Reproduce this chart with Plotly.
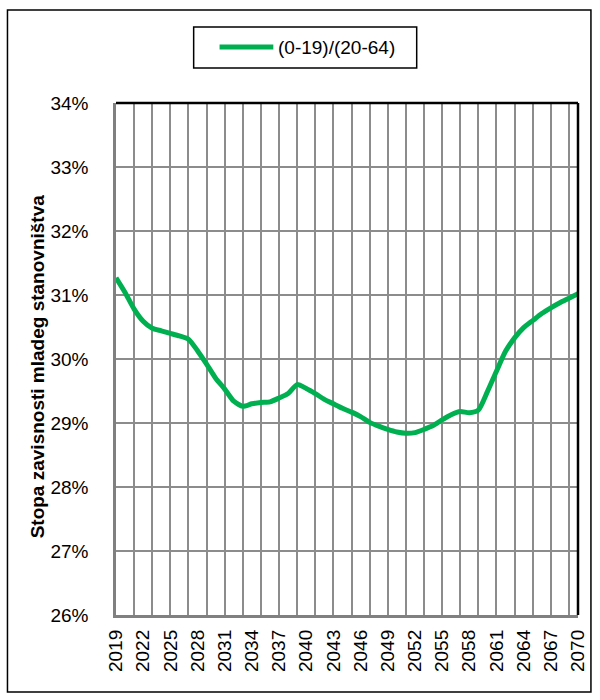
import plotly.graph_objects as go

years = list(range(2019, 2071))
ratio = [31.27, 31.04, 30.78, 30.59, 30.48, 30.44, 30.40, 30.36, 30.31, 30.13,
         29.92, 29.70, 29.53, 29.34, 29.26, 29.30, 29.32, 29.33, 29.39, 29.46,
         29.60, 29.54, 29.46, 29.37, 29.30, 29.23, 29.17, 29.10, 29.01, 28.95,
         28.90, 28.86, 28.84, 28.85, 28.90, 28.96, 29.05, 29.13, 29.18, 29.16,
         29.20, 29.49, 29.81, 30.12, 30.33, 30.49, 30.60, 30.71, 30.80, 30.88,
         30.95, 31.02]
label_years = list(range(2019, 2071, 3))
grid_years = list(range(2019, 2071, 2))
y_ticks = [26, 27, 28, 29, 30, 31, 32, 33, 34]
y_labels = [f"{v}%" for v in y_ticks]
series_name = "(0-19)/(20-64)"
y_title = "Stopa zavisnosti mladeg stanovništva"

FONT = "Liberation Sans, Arial, sans-serif"
GREEN = "#00B050"
GRID = "#8c8c8c"

# plot area in pixels
L, R, T, B = 116, 580, 103, 615
W, H = R - L, B - T


def px(x):
    return (x - L) / W


def py(y):
    return (B - y) / H


fig = go.Figure()
fig.add_trace(go.Scatter(
    x=years, y=ratio, mode="lines", name=series_name,
    line=dict(color=GREEN, width=5, shape="spline", smoothing=0.6),
    showlegend=False, xaxis="x", yaxis="y"
))
# transparent copy so the label axis gets drawn
fig.add_trace(go.Scatter(
    x=years, y=ratio, mode="lines", opacity=0, hoverinfo="skip",
    showlegend=False, xaxis="x2", yaxis="y"
))

fig.update_layout(
    width=600, height=700,
    margin=dict(l=L, r=600 - R, t=T, b=700 - B),
    paper_bgcolor="white", plot_bgcolor="white",
    font=dict(family=FONT, color="black", size=19),
    xaxis=dict(range=[2019, 2070], tickvals=grid_years, showticklabels=False,
               showgrid=True, gridcolor=GRID, gridwidth=1.5, zeroline=False,
               showline=True, linecolor="#808080", linewidth=2.5, ticks=""),
    xaxis2=dict(range=[2019, 2070], overlaying="x", anchor="y", side="bottom",
                tickvals=label_years, tickangle=-90, showgrid=False,
                zeroline=False, ticks="", ticklabelstandoff=10,
                tickfont=dict(size=19, family=FONT)),
    yaxis=dict(range=[26, 34], tickvals=y_ticks, ticktext=y_labels,
               showgrid=True, gridcolor=GRID, gridwidth=1.5, zeroline=False,
               showline=True, linecolor="#808080", linewidth=2.5, ticks="",
               ticklabelstandoff=21, tickfont=dict(size=19, family=FONT)),
    showlegend=False,
)

shapes = [
    # top and right plot border
    dict(type="line", xref="paper", yref="paper", x0=0, x1=1, y0=1, y1=1,
         line=dict(color="black", width=2.5), layer="above"),
    dict(type="line", xref="paper", yref="paper", x0=1, x1=1, y0=0, y1=1,
         line=dict(color="black", width=2.5), layer="above"),
    # outer chart border
    dict(type="rect", xref="paper", yref="paper", x0=px(7), x1=px(593),
         y0=py(692), y1=py(10), line=dict(color="black", width=1.5)),
    # legend box and sample line
    dict(type="rect", xref="paper", yref="paper", x0=px(194), x1=px(418),
         y0=py(68), y1=py(27), line=dict(color="black", width=1.5),
         fillcolor="white"),
    dict(type="line", xref="paper", yref="paper", x0=px(220), x1=px(274),
         y0=py(47), y1=py(47), line=dict(color=GREEN, width=5)),
]
fig.update_layout(shapes=shapes)

fig.add_annotation(x=px(277), y=py(47), xref="paper", yref="paper",
                   text=series_name, showarrow=False, xanchor="left",
                   yanchor="middle", font=dict(size=19, family=FONT))
fig.add_annotation(x=px(37), y=py(366), xref="paper", yref="paper",
                   text="<b>" + y_title + "</b>", showarrow=False, textangle=-90,
                   xanchor="center", yanchor="middle",
                   font=dict(size=19, family=FONT))

fig.write_html("out.html", config={"displayModeBar": False},
               post_script="document.body.style.margin='0';")
